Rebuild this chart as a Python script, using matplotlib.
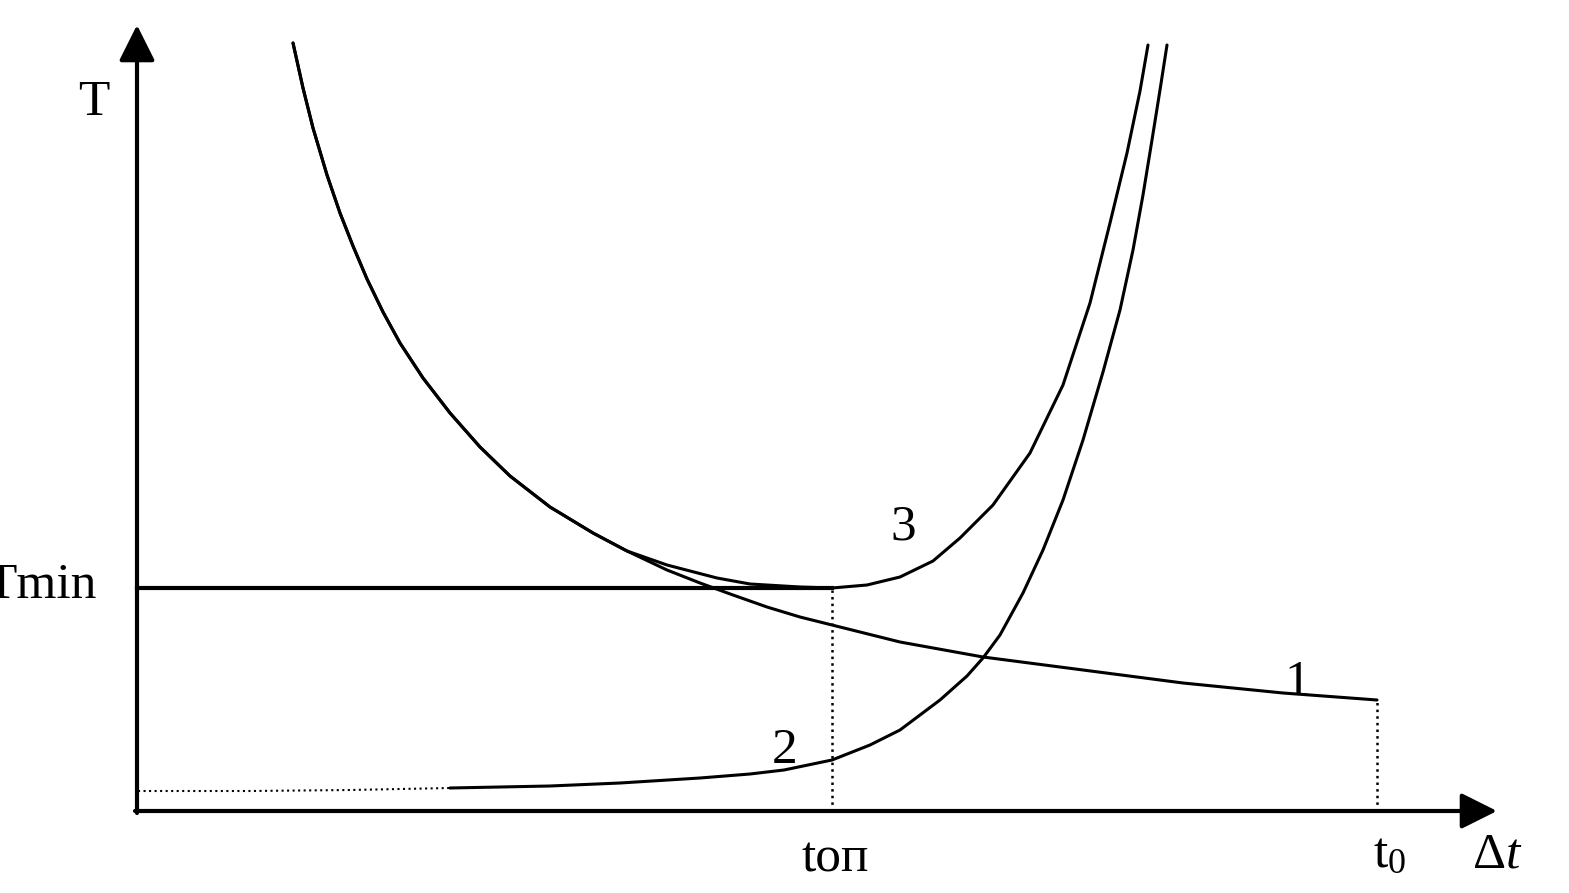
import matplotlib.pyplot as plt

# Font setup (Times-like serif, as in the scanned figure)
plt.rcParams['font.family'] = ['Liberation Serif', 'DejaVu Serif']
plt.rcParams['mathtext.fontset'] = 'custom'
plt.rcParams['mathtext.rm'] = 'Liberation Serif'
plt.rcParams['mathtext.it'] = 'Liberation Serif:italic'

# Curve 1 (decreasing) - the left part is shared with curve 3
shared_x = [156, 166, 176, 190, 203, 216, 230, 246, 263, 286, 313, 343, 373, 413, 456, 490]
shared_y = [768, 723, 683, 636, 598, 565, 532, 499, 468, 433, 398, 364, 335, 304, 278, 260]

curve1_x = [530, 563, 596, 630, 663, 695, 763, 846, 946, 1046, 1146, 1240]
curve1_y = [241, 228, 216, 204, 194, 186, 169, 154, 141, 128, 118, 111]

# Curve 3 (sum) after it leaves curve 1
curve3_x = [530, 580, 613, 663, 695, 730, 763, 796, 823, 856, 893, 926, 953, 973, 990, 1003, 1011]
curve3_y = [246, 233, 227, 224, 223, 226, 234, 250, 273, 306, 358, 426, 508, 588, 658, 720, 766]

# Curve 2 (increasing)
curve2_x = [1, 113, 213, 313, 413, 483, 563, 613, 647, 695, 733, 763, 803, 830, 846, 863,
            886, 906, 926, 946, 966, 983, 996, 1006, 1015, 1023, 1030]
curve2_y = [20, 20, 21, 23, 25, 28, 33, 37, 41, 51, 66, 81, 111, 135, 153, 176,
            218, 261, 311, 371, 439, 501, 561, 616, 671, 721, 766]

# Key values
t_opt = 695
t_zero = 1240
T_min = 223
T_end = 111

fig = plt.figure(figsize=(15.69, 8.93), dpi=100)
ax = fig.add_axes([0, 0, 1, 1])
ax.set_xlim(-137, 1432)
ax.set_ylim(-82, 811)
ax.axis('off')

# Axes with arrows
arrow = dict(arrowstyle='-|>,head_length=1.1,head_width=0.55', lw=3, color='black',
             mutation_scale=20, shrinkA=0, shrinkB=0)
ax.annotate('', xy=(0, 786), xytext=(0, -2), arrowprops=arrow)
ax.annotate('', xy=(1360, 0), xytext=(-2, 0), arrowprops=arrow)

# Curves
line_style = dict(color='black', lw=2.2, solid_joinstyle='round', solid_capstyle='round')
ax.plot(shared_x + curve1_x, shared_y + curve1_y, **line_style)
ax.plot(shared_x + curve3_x, shared_y + curve3_y, **line_style)
ax.plot(curve2_x[:4], curve2_y[:4], color='black', lw=1.5, ls=':')
ax.plot(curve2_x[3:], curve2_y[3:], **line_style)

# Tmin level and guide lines
ax.plot([0, t_opt], [T_min, T_min], color='black', lw=3)
ax.plot([t_opt, t_opt], [0, T_min - 2], color='black', lw=1.8, ls=':')
ax.plot([t_zero, t_zero], [0, T_end], color='black', lw=1.8, ls=':')

# Labels
fs = 37
ax.text(-43, 696, 'T', fontsize=fs, ha='center', va='baseline')
ax.text(-40, 213, 'Tmin', fontsize=fs, ha='right', va='baseline')
ax.text(766, 271, '3', fontsize=fs, ha='center', va='baseline')
ax.text(648, 48, '2', fontsize=fs, ha='center', va='baseline')
ax.text(1160, 116, '1', fontsize=fs, ha='center', va='baseline')
ax.text(698, -60, 'toп', fontsize=fs, ha='center', va='baseline')
ax.text(1253, -56, r'$\mathrm{t_0}$', fontsize=fs, ha='center', va='baseline')
ax.text(1360, -56, r'$\Delta t$', fontsize=fs, ha='center', va='baseline')

plt.savefig('out.png', dpi=100)
